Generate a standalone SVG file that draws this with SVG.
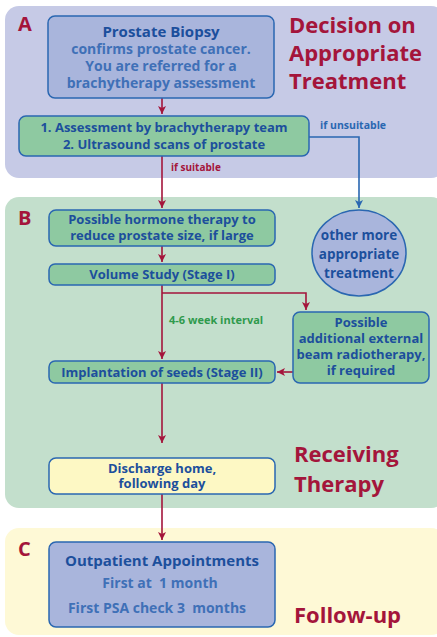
<svg xmlns="http://www.w3.org/2000/svg" width="437" height="637" viewBox="0 0 437 637">
<defs>
<style>
text{font-family:"Open Sans","Liberation Sans",sans-serif;font-weight:bold;white-space:pre;}
.t{fill:#1c4f9c;font-size:13px;text-anchor:middle;}
.t16{fill:#1c4f9c;font-size:15px;text-anchor:middle;}
.t15{fill:#1c4f9c;font-size:13.5px;text-anchor:middle;}
.tl{fill:#3f70b7;font-size:14px;text-anchor:middle;}
.h{fill:#a4153b;font-size:22px;}
.lab{fill:#a4153b;font-size:20px;}
.box{stroke:#2a67b1;stroke-width:1.5;}
.g{fill:#8ec9a1;}
.b{fill:#a9b5dc;}
.y{fill:#fdf8c4;}
.red{stroke:#a4153b;stroke-width:1.6;fill:none;}
.blue{stroke:#2a67b1;stroke-width:1.6;fill:none;}
</style>
<marker id="ar" markerWidth="10" markerHeight="10" refX="8" refY="4" orient="auto" markerUnits="userSpaceOnUse"><path d="M0,0 L8,4 L0,8 L2,4 Z" fill="#a4153b"/></marker>
<marker id="ab" markerWidth="10" markerHeight="10" refX="8" refY="4" orient="auto" markerUnits="userSpaceOnUse"><path d="M0,0 L8,4 L0,8 L2,4 Z" fill="#2a67b1"/></marker>
</defs>
<g id="panels">
<rect x="5" y="6" width="440" height="172" rx="14" fill="#c6cae6"/>
<rect x="5" y="197" width="440" height="311" rx="14" fill="#c3dfcc"/>
<rect x="5" y="528" width="440" height="107" rx="14" fill="#fef9d6"/>
<text class="lab" x="18" y="31">A</text>
<text class="lab" x="18" y="225">B</text>
<text class="lab" x="18" y="556">C</text>
<text class="h" x="289" y="33">Decision on</text>
<text class="h" x="289" y="61">Appropriate</text>
<text class="h" x="289" y="89">Treatment</text>
<text class="h" x="294" y="462">Receiving</text>
<text class="h" x="294" y="492">Therapy</text>
<text class="h" x="294" y="623">Follow-up</text>
</g>
<g id="connectors">
<path class="red" d="M162,98 V114" marker-end="url(#ar)"/>
<path class="red" d="M162,156 V208" marker-end="url(#ar)"/>
<path class="blue" d="M309,137 H359 V208" marker-end="url(#ab)"/>
<path class="red" d="M162,246 V262" marker-end="url(#ar)"/>
<path class="red" d="M162,285 V359" marker-end="url(#ar)"/>
<path class="red" d="M162,293 H306 V310" marker-end="url(#ar)"/>
<path class="red" d="M293,372 H277" marker-end="url(#ar)"/>
<path class="red" d="M162,383 V443" marker-end="url(#ar)"/>
<path class="red" d="M162,494 V540" marker-end="url(#ar)"/>
<text x="320" y="129" style="font-size:10.5px" fill="#2a67b1">if unsuitable</text>
<text x="171" y="171" style="font-size:10px" fill="#a4153b">if suitable</text>
<text x="169" y="324" style="font-size:11px" fill="#2f9a4c">4-6 week interval</text>
</g>
<g id="biopsy">
<rect class="box b" x="48" y="16" width="226" height="82" rx="7"/>
<text class="t16" x="161" y="37">Prostate Biopsy</text>
<text class="tl" x="161" y="54">confirms prostate cancer.</text>
<text class="tl" x="161" y="71">You are referred for a</text>
<text class="tl" x="161" y="88">brachytherapy assessment</text>
</g>
<g id="assessment">
<rect class="box g" x="19" y="116" width="290" height="40" rx="7"/>
<text class="t" x="164" y="132">1. Assessment by brachytherapy team</text>
<text class="t" x="164" y="149">2. Ultrasound scans of prostate</text>
</g>
<g id="other">
<ellipse class="box b" cx="359" cy="253" rx="47" ry="43"/>
<text class="t15" x="359" y="240">other more</text>
<text class="t15" x="359" y="259">appropriate</text>
<text class="t15" x="359" y="278">treatment</text>
</g>
<g id="hormone">
<rect class="box g" x="49" y="210" width="226" height="36" rx="7"/>
<text class="t" x="162" y="224">Possible hormone therapy to</text>
<text class="t" x="162" y="240">reduce prostate size, if large</text>
</g>
<g id="volume">
<rect class="box g" x="49" y="264" width="226" height="21" rx="6"/>
<text class="t" x="162" y="279">Volume Study (Stage I)</text>
</g>
<g id="external">
<rect class="box g" x="293" y="312" width="136" height="71" rx="7"/>
<text class="t" x="361" y="327">Possible</text>
<text class="t" x="361" y="343">additional external</text>
<text class="t" x="361" y="359">beam radiotherapy,</text>
<text class="t" x="361" y="375">if required</text>
</g>
<g id="implantation">
<rect class="box g" x="49" y="361" width="226" height="22" rx="6"/>
<text class="t" x="162" y="377">Implantation of seeds (Stage II)</text>
</g>
<g id="discharge">
<rect class="box y" x="49" y="458" width="226" height="36" rx="7"/>
<text class="t" x="162" y="473">Discharge home,</text>
<text class="t" x="162" y="488">following day</text>
</g>
<g id="outpatient">
<rect class="box b" x="49" y="542" width="226" height="85" rx="7"/>
<text class="t16" x="162" y="566">Outpatient Appointments</text>
<text class="tl" x="160" y="588">First at  1 month</text>
<text class="tl" x="157" y="613">First PSA check 3  months</text>
</g>
</svg>
